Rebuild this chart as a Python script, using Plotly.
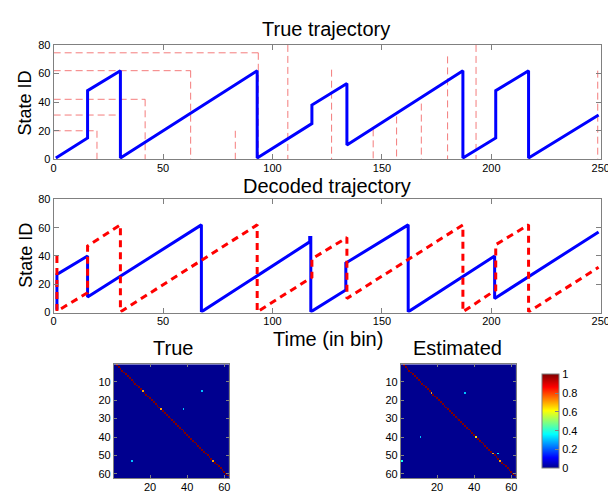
import plotly.graph_objects as go

W, H = 616, 495
FONT = "Liberation Sans, Arial, Helvetica, sans-serif"

# ---------------- data ----------------
# True trajectory (vertices of the piecewise-linear state path)
true_t = [1, 15.5, 15.5, 30.5, 30.5, 93, 93, 118, 118, 134, 134, 187, 187, 202, 202, 217, 217, 249]
true_s = [1, 15, 48, 62, 1, 62, 1, 25, 38, 53, 10, 62, 1, 15, 48, 62, 1, 31]

# Reference marks in the top panel (light red dashed)
hmark_state = [74.5, 62, 42, 31, 20]
hmark_tend = [93.5, 62.6, 41.8, 30.5, 19.8]
vmark_t = [19.8, 41.8, 62.6, 83, 93.5, 107, 127, 146, 156.7, 168, 180, 193, 248.6]
vmark_top = [20, 42, 62, 20, 74.5, 80, 62.7, 21, 30, 39, 72, 80, 62]

# Decoded trajectories
dec_blue_t = [1.5, 1.5, 15.5, 15.5, 67.5, 67.5, 117, 117, 117.5, 117.5, 133.5, 133.5, 162, 162, 201.5, 201.5, 249]
dec_blue_s = [2, 27, 40, 11, 62, 0.5, 50, 53, 53, 0.5, 16, 35, 62, 0.5, 40, 10, 57]
dec_red_t = [1.5, 1.5, 15.5, 15.5, 30.5, 30.5, 93, 93, 118, 118, 134, 134, 187, 187, 202, 202, 217, 217, 249]
dec_red_s = [40, 1, 14, 47, 62, 0.5, 62, 0.5, 25, 38, 53, 10, 62, 0.5, 16, 48, 62, 0.5, 32]

# Transition matrices (state i -> i+1 is 1 except the listed rows)
n_states = 62
true_rows = [15, 15, 25, 25, 53, 53]
true_cols = [16, 48, 26, 38, 54, 10]
true_vals = [0.7, 0.3, 0.7, 0.3, 0.7, 0.3]
est_rows = [16, 16, 40, 40, 49, 49, 53, 53]
est_cols = [17, 35, 41, 11, 50, 53, 54, 1]
est_vals = [0.7, 0.3, 0.65, 0.3, 0.7, 0.35, 0.7, 0.38]

time_ticks = [0, 50, 100, 150, 200, 250]
state_ticks = [0, 20, 40, 60, 80]
mat_xticks = [20, 40, 60]
mat_yticks = [10, 20, 30, 40, 50, 60]
cbar_ticks = [0, 0.2, 0.4, 0.6, 0.8, 1]
cbar_text = ["0", "0.2", "0.4", "0.6", "0.8", "1"]


def px(x):
    return x / W


def py(y):
    return 1 - y / H


def build_matrix(rows, cols, vals):
    z = [[0.0] * n_states for _ in range(n_states)]
    for i in range(n_states - 1):
        z[i][i + 1] = 1.0
    special = set(rows)
    for r in special:
        z[r - 1] = [0.0] * n_states
    for r, c, v in zip(rows, cols, vals):
        z[r - 1][c - 1] = v
    return z


jet = [[0.0, "#00008F"], [0.11, "#0000FF"], [0.36, "#00FFFF"],
       [0.61, "#FFFF00"], [0.86, "#FF0000"], [1.0, "#800000"]]

fig = go.Figure()

# top panel marks
mx, my = [], []
for s, t in zip(hmark_state, hmark_tend):
    mx += [0, t, None]
    my += [s, s, None]
for t, s in zip(vmark_t, vmark_top):
    mx += [t, t, None]
    my += [s, 0, None]
fig.add_trace(go.Scatter(x=mx, y=my, mode="lines", xaxis="x", yaxis="y",
                         line=dict(color="rgba(240,80,80,0.75)", width=1, dash="7px,4px"),
                         hoverinfo="skip", showlegend=False))
fig.add_trace(go.Scatter(x=true_t, y=true_s, mode="lines", xaxis="x", yaxis="y",
                         line=dict(color="#0000FF", width=3),
                         hoverinfo="skip", showlegend=False))

# middle panel
fig.add_trace(go.Scatter(x=dec_blue_t, y=dec_blue_s, mode="lines", xaxis="x2", yaxis="y2",
                         line=dict(color="#0000FF", width=3),
                         hoverinfo="skip", showlegend=False))
fig.add_trace(go.Scatter(x=dec_red_t, y=dec_red_s, mode="lines", xaxis="x2", yaxis="y2",
                         line=dict(color="#FF0000", width=3, dash="7px,5px"),
                         hoverinfo="skip", showlegend=False))

states = list(range(1, n_states + 1))
fig.add_trace(go.Heatmap(z=build_matrix(true_rows, true_cols, true_vals), x=states, y=states,
                         xaxis="x3", yaxis="y3", colorscale=jet, zmin=0, zmax=1,
                         showscale=False, hoverinfo="skip"))
fig.add_trace(go.Heatmap(z=build_matrix(est_rows, est_cols, est_vals), x=states, y=states,
                         xaxis="x4", yaxis="y4", colorscale=jet, zmin=0, zmax=1,
                         showscale=True, hoverinfo="skip",
                         colorbar=dict(x=px(531), xanchor="left", thickness=17, thicknessmode="pixels",
                                       len=117 / H, lenmode="fraction", y=py(417.5), yanchor="middle",
                                       outlinecolor="#808080", outlinewidth=1,
                                       tickvals=cbar_ticks, ticktext=cbar_text, ticks="inside",
                                       ticklen=4, tickcolor="#808080",
                                       tickfont=dict(size=11, color="#000", family=FONT))))

ax = dict(showline=True, linecolor="#808080", linewidth=1, mirror="ticks", ticks="inside",
          ticklen=5, tickcolor="#808080", showgrid=False, zeroline=False,
          tickfont=dict(size=11, color="#000", family=FONT))
xax = dict(ax, ticklabelstandoff=-2)

layout = dict(
    width=W, height=H, margin=dict(l=0, r=0, t=0, b=0),
    paper_bgcolor="white", plot_bgcolor="white", showlegend=False,
    font=dict(family=FONT, color="#000"),
    xaxis=dict(xax, domain=[px(43.5), px(601.5)], range=[0, 250], tickvals=time_ticks, anchor="y"),
    yaxis=dict(ax, domain=[py(149), py(31.7)], range=[0, 80], tickvals=state_ticks, anchor="x"),
    xaxis2=dict(xax, domain=[px(43.5), px(601.5)], range=[0, 250], tickvals=time_ticks, anchor="y2"),
    yaxis2=dict(ax, domain=[py(306), py(190)], range=[0, 80], tickvals=state_ticks, anchor="x2"),
    xaxis3=dict(xax, domain=[px(105), px(222.3)], range=[0.5, n_states + 0.5], tickvals=mat_xticks,
                anchor="y3", ticklen=3),
    yaxis3=dict(ax, domain=[py(476), py(359)], range=[n_states + 0.5, 0.5], tickvals=mat_yticks,
                anchor="x3", ticklen=3),
    xaxis4=dict(xax, domain=[px(397.7), px(515)], range=[0.5, n_states + 0.5], tickvals=mat_xticks,
                anchor="y4", ticklen=3),
    yaxis4=dict(ax, domain=[py(476), py(359)], range=[n_states + 0.5, 0.5], tickvals=mat_yticks,
                anchor="x4", ticklen=3),
)
fig.update_layout(**layout)


def label(text, x, y, size, angle=0):
    fig.add_annotation(text=text, x=px(x), y=py(y), xref="paper", yref="paper",
                       xanchor="center", yanchor="middle", showarrow=False, textangle=angle,
                       font=dict(size=size, family=FONT, color="#000"))


label("True trajectory", 321, 15.5, 20)
label("Decoded trajectory", 322, 176, 20)
label("Time (in bin)", 323.5, 333.5, 20)
label("True", 165, 342.5, 20)
label("Estimated", 455, 342.5, 20)
label("State ID", 14.5, 91.5, 18, -90)
label("State ID", 14.5, 247.5, 18, -90)

fig.write_html("out.html")
